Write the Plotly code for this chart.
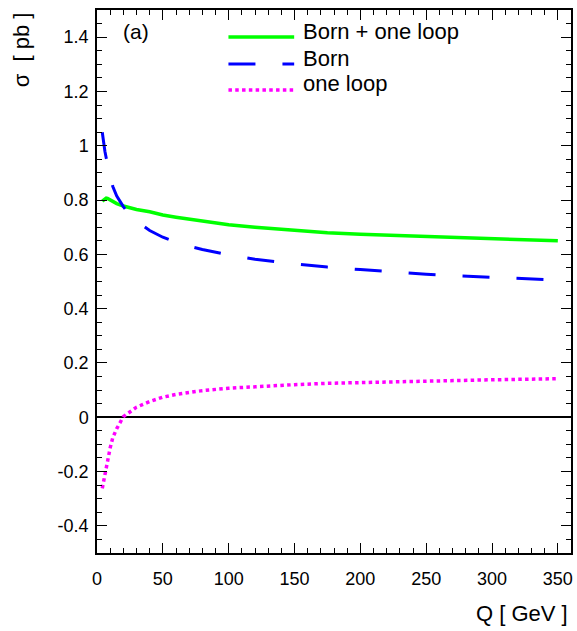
import plotly.graph_objects as go

# Centre-of-mass energy Q [GeV]
q_gev = [4, 5, 6, 7, 8, 10, 12, 15, 20, 25, 30, 40, 50, 60, 70, 80,
         100, 120, 150, 175, 200, 225, 250, 275, 300, 325, 350]

# Cross sections [pb]
sigma_total = [0.796, 0.800, 0.805, 0.807, 0.806, 0.800, 0.795, 0.787, 0.778,
               0.771, 0.765, 0.757, 0.745, 0.737, 0.730, 0.723, 0.709, 0.700,
               0.688, 0.680, 0.674, 0.670, 0.665, 0.661, 0.657, 0.653, 0.650]
sigma_born = [1.050, 1.010, 0.980, 0.955, 0.930, 0.885, 0.850, 0.815, 0.776,
              0.745, 0.722, 0.688, 0.663, 0.645, 0.630, 0.618, 0.598, 0.582,
              0.565, 0.553, 0.544, 0.535, 0.527, 0.521, 0.515, 0.510, 0.505]
sigma_loop = [-0.262, -0.235, -0.210, -0.180, -0.155, -0.113, -0.075, -0.042,
              0.002, 0.021, 0.037, 0.058, 0.074, 0.084, 0.092, 0.098, 0.107,
              0.113, 0.120, 0.125, 0.128, 0.132, 0.134, 0.136, 0.138, 0.140,
              0.142]

series_names = ["Born + one loop", "Born", "one loop"]
series_colors = ["#00ff00", "#0000ff", "#ff00ff"]
series_widths = [3.5, 3, 3.5]
series_dashes = ["solid", "27px,27px", "3.5px,3.3px"]

x_ticks = [0, 50, 100, 150, 200, 250, 300, 350]
x_tick_labels = ["0", "50", "100", "150", "200", "250", "300", "350"]
y_ticks = [-0.4, -0.2, 0, 0.2, 0.4, 0.6, 0.8, 1, 1.2, 1.4]
y_tick_labels = ["-0.4", "-0.2", "0", "0.2", "0.4", "0.6", "0.8", "1",
                 "1.2", "1.4"]

FONT = "Liberation Sans, Arial, Helvetica, sans-serif"

fig = go.Figure()
for ys, name, col, w, d in zip([sigma_total, sigma_born, sigma_loop],
                               series_names, series_colors,
                               series_widths, series_dashes):
    fig.add_trace(go.Scatter(x=q_gev, y=ys, mode="lines", name=name,
                             line=dict(color=col, width=w, dash=d),
                             showlegend=False))

W, H = 577, 631
ML, MR, MT, MB = 97, 4, 10, 78
PW, PH = W - ML - MR, H - MT - MB


def px_x(p):
    return (p - ML) / PW


def px_y(p):
    return 1 - (p - MT) / PH


# Legend drawn as line samples with labels
legend_rows = [37, 64, 90]
legend_text_y = [31, 58, 83]
for name, col, w, d, ly, ty in zip(series_names, series_colors, series_widths,
                                   series_dashes, legend_rows, legend_text_y):
    fig.add_shape(type="line", xref="paper", yref="paper",
                  x0=px_x(229), x1=px_x(295), y0=px_y(ly), y1=px_y(ly),
                  line=dict(color=col, width=w, dash=d))
    fig.add_annotation(xref="paper", yref="paper", x=px_x(302), y=px_y(ty),
                       xanchor="left", yanchor="middle", showarrow=False,
                       text=name, font=dict(family=FONT, size=22, color="black"))

fig.add_annotation(xref="paper", yref="paper", x=px_x(136), y=px_y(31),
                   xanchor="center", yanchor="middle", showarrow=False,
                   text="(a)", font=dict(family=FONT, size=21, color="black"))

fig.add_annotation(xref="paper", yref="paper", x=px_x(572), y=px_y(613),
                   xanchor="right", yanchor="middle", showarrow=False,
                   text="Q [ GeV ]", font=dict(family=FONT, size=22, color="black"))

fig.add_annotation(xref="paper", yref="paper", x=px_x(21), y=px_y(50),
                   xanchor="center", yanchor="middle", showarrow=False,
                   textangle=-90,
                   text="σ  [ pb ]", font=dict(family=FONT, size=22, color="black"))

axis_common = dict(
    showline=True, linecolor="black", linewidth=1.5, mirror="ticks",
    ticks="inside", ticklen=10, tickwidth=1, tickcolor="black",
    showgrid=False,
    tickfont=dict(family=FONT, size=18, color="black"),
)

fig.update_xaxes(range=[0, 360], tickvals=x_ticks, ticktext=x_tick_labels,
                 zeroline=False,
                 minor=dict(dtick=10, tick0=0, ticks="inside", ticklen=5,
                            tickwidth=1, tickcolor="black", showgrid=False),
                 ticklabelstandoff=9,
                 **axis_common)
fig.update_yaxes(range=[-0.5, 1.5], tickvals=y_ticks, ticktext=y_tick_labels,
                 zeroline=True, zerolinecolor="black", zerolinewidth=1.5,
                 minor=dict(dtick=0.05, tick0=0, ticks="inside", ticklen=5,
                            tickwidth=1, tickcolor="black", showgrid=False),
                 ticklabelstandoff=3,
                 **axis_common)

fig.update_layout(
    width=W, height=H,
    margin=dict(l=ML, r=MR, t=MT, b=MB, pad=0),
    plot_bgcolor="white", paper_bgcolor="white",
    showlegend=False,
)

fig.write_html("out.html")
